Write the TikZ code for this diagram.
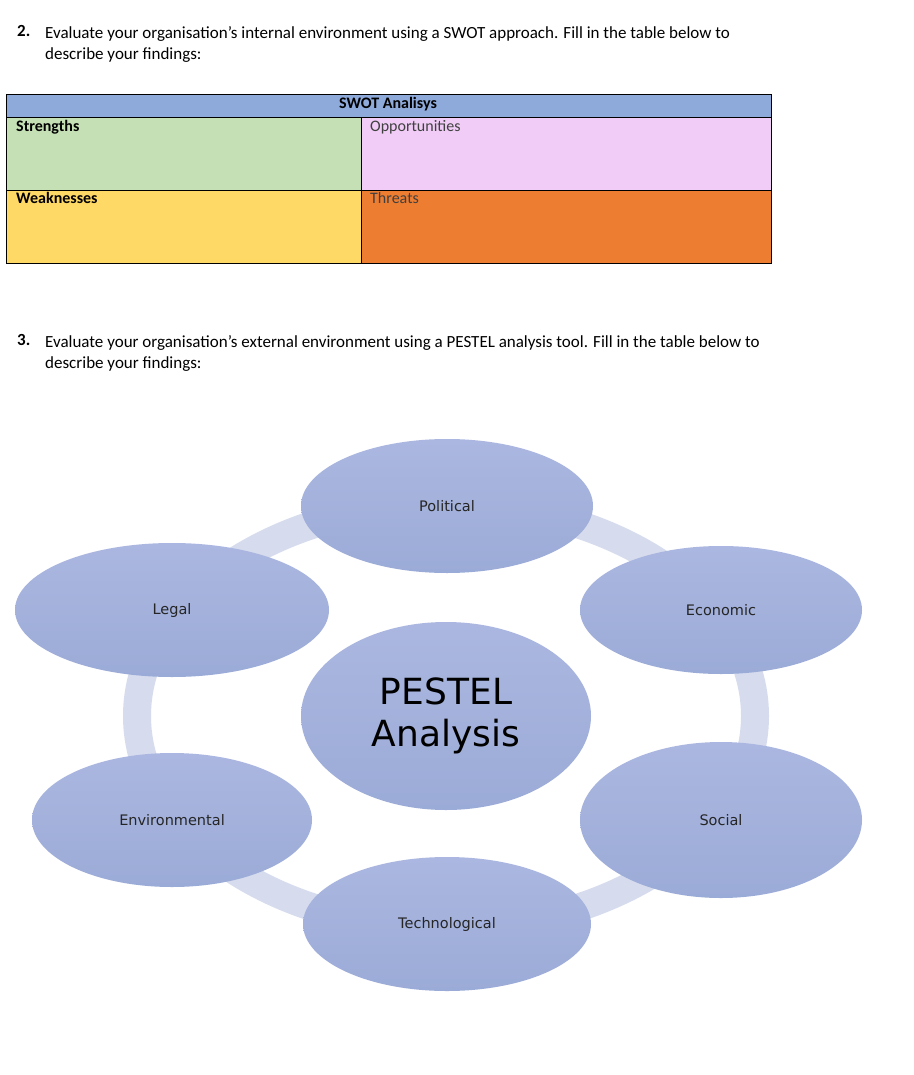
\documentclass[tikz,border=0pt]{standalone}
\usepackage{fontspec}
\setmainfont{Carlito}
\newfontfamily\ellfont{DejaVu Sans}
\usetikzlibrary{shapes.geometric}
\definecolor{hdr}{RGB}{142,170,219}
\definecolor{sgreen}{RGB}{197,224,180}
\definecolor{spink}{RGB}{240,204,246}
\definecolor{syellow}{RGB}{255,217,102}
\definecolor{sorange}{RGB}{237,125,49}
\definecolor{ringc}{RGB}{214,220,238}
\definecolor{eltop}{RGB}{171,183,224}
\definecolor{elbot}{RGB}{155,171,215}
\tikzset{
 cell/.style={draw=black,line width=0.6pt},
 lab/.style={anchor=north west,inner sep=0pt,font=\fontsize{16}{18}\selectfont},
 para/.style={anchor=north west,inner sep=0pt,align=left,font=\fontsize{17}{21.5}\selectfont},
 pest/.style={ellipse,draw=none,top color=eltop,bottom color=elbot,inner sep=0pt,font=\ellfont\fontsize{14.5}{16}\selectfont,text=black!85}
}
\begin{document}
\begin{tikzpicture}[x=1pt,y=-1pt]
\useasboundingbox[fill=white] (0,0) rectangle (913,1075);
% question 2
\node[para,font=\bfseries\fontsize{17}{21}\selectfont] (n2) at (17,25) {2.};
\node[para] (q2) at (45,26) {Evaluate your organisation's internal environment using a SWOT approach. Fill in the table below to\\describe your findings:};
% table
\draw[cell,fill=hdr] (6,94) rectangle (771,117);
\draw[cell,fill=sgreen] (6,117) rectangle (361,190);
\draw[cell,fill=spink] (361,117) rectangle (771,190);
\draw[cell,fill=syellow] (6,190) rectangle (361,263);
\draw[cell,fill=sorange] (361,190) rectangle (771,263);
\node[inner sep=0pt,font=\bfseries\fontsize{16}{18}\selectfont] (th) at (388,104) {SWOT Analisys};
\node[lab,font=\bfseries\fontsize{16}{18}\selectfont] (ts) at (16,120) {Strengths};
\node[lab,text=black!75] (to) at (370,120) {Opportunities};
\node[lab,font=\bfseries\fontsize{16}{18}\selectfont] (tw) at (16,192) {Weaknesses};
\node[lab,text=black!75] (tt) at (370,192) {Threats};
% question 3
\node[para,font=\bfseries\fontsize{17}{21}\selectfont] (n3) at (17,334) {3.};
\node[para] (q3) at (45,335) {Evaluate your organisation's external environment using a PESTEL analysis tool. Fill in the table below to\\describe your findings:};
% ring
\draw[ringc,line width=28pt] (446,716) ellipse [x radius=309, y radius=212];
% ellipses
\node[pest,minimum width=292pt,minimum height=134pt] (pol) at (447,506) {Political};
\node[pest,minimum width=282pt,minimum height=128pt] (eco) at (721,610) {Economic};
\node[pest,minimum width=282pt,minimum height=156pt] (soc) at (721,820) {Social};
\node[pest,minimum width=288pt,minimum height=134pt] (tec) at (447,924) {Technological};
\node[pest,minimum width=280pt,minimum height=134pt] (env) at (172,820) {Environmental};
\node[pest,minimum width=314pt,minimum height=134pt] (leg) at (172,610) {Legal};
\node[pest,minimum width=290pt,minimum height=188pt,align=center,font=\ellfont\fontsize{36}{42}\selectfont,text=black] (ctr) at (446,716) {PESTEL\\Analysis};
\end{tikzpicture}
\end{document}
